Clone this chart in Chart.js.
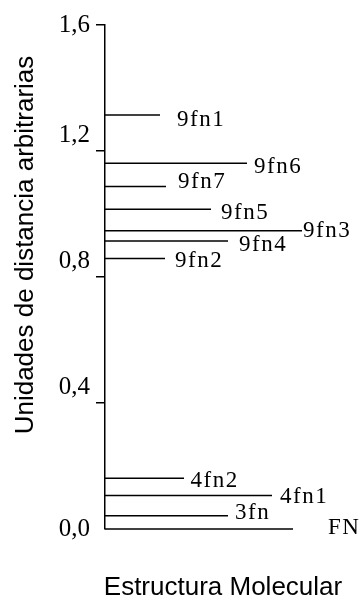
<!DOCTYPE html>
<html>
<head>
<meta charset="utf-8">
<script src="https://cdn.jsdelivr.net/npm/chart.js@4/dist/chart.umd.min.js"></script>
<style>
  html, body { margin: 0; padding: 0; background: #fff; }
  #wrap { width: 362px; height: 600px; position: relative; }
</style>
</head>
<body>
<div id="wrap"><canvas id="c"></canvas></div>
<script>
  /* datos: estructura, distancia (u.a.) y largo de cada raya */
  const structures = ['9fn1', '9fn6', '9fn7', '9fn5', '9fn3', '9fn4', '9fn2', '4fn2', '4fn1', '3fn', 'FN'];
  const distances  = [1.314, 1.161, 1.087, 1.015, 0.947, 0.914, 0.859, 0.161, 0.106, 0.042, 0];
  const lineLengths = [55, 142, 61, 106, 197, 123, 60, 79, 167, 123, 188];

  const tickValues = [0, 0.4, 0.8, 1.2, 1.6];
  const tickLabels = ['0,0', '0,4', '0,8', '1,2', '1,6'];

  const yTitle = 'Unidades de distancia arbitrarias';
  const xTitle = 'Estructura Molecular';

  // desplazamiento de cada etiqueta respecto al final de su raya (px)
  const labelNudge = [[17, 5], [7, 4], [12, -4.5], [10, 4], [1, 0], [11, 4], [10, 3], [6.5, 2.5], [8, 1], [7, -3], [35, -1]];

  const SERIF = '"Liberation Serif", "Times New Roman", serif';
  const SANS = '"Liberation Sans", Arial, sans-serif';

  /* ── etiquetas, ticks y títulos ── */
  const textPlugin = {
    id: 'texts',
    afterDraw: function (chart) {
      const ctx = chart.ctx;
      const xs = chart.scales.x, ys = chart.scales.y;
      ctx.save();
      ctx.fillStyle = '#000';

      // ticks del eje y
      ctx.font = '25px ' + SERIF;
      ctx.textAlign = 'right';
      ctx.textBaseline = 'middle';
      tickValues.forEach(function (v, i) {
        const off = (v === 0 || v === 1.6) ? 0 : -16;
        ctx.fillText(tickLabels[i], 90, ys.getPixelForValue(v) + off);
      });

      // nombre de cada estructura
      ctx.font = '23px ' + SERIF;
      ctx.textAlign = 'left';
      if ('letterSpacing' in ctx) ctx.letterSpacing = '1.5px';
      structures.forEach(function (s, i) {
        const n = labelNudge[i];
        ctx.fillText(s, xs.getPixelForValue(lineLengths[i]) + n[0], ys.getPixelForValue(distances[i]) + n[1]);
      });
      if ('letterSpacing' in ctx) ctx.letterSpacing = '0px';

      // títulos
      ctx.textAlign = 'center';
      ctx.textBaseline = 'alphabetic';
      ctx.font = '26px ' + SANS;
      ctx.fillText(xTitle, 223, 595);
      ctx.translate(33, 245);
      ctx.rotate(-Math.PI / 2);
      ctx.fillText(yTitle, 0, 0);
      ctx.restore();
    }
  };

  const datasets = structures.map(function (s, i) {
    return {
      label: s,
      data: [{ x: 0, y: distances[i] }, { x: lineLengths[i], y: distances[i] }],
      borderColor: '#000',
      borderWidth: 1.5,
      pointRadius: 0,
      fill: false,
      tension: 0,
      clip: false
    };
  });

  new Chart(document.getElementById('c').getContext('2d'), {
    type: 'line',
    data: { datasets: datasets },
    options: {
      responsive: true,
      maintainAspectRatio: false,
      animation: false,
      layout: { padding: { left: 96, top: 25, right: 7, bottom: 71 } },
      plugins: { legend: { display: false }, tooltip: { enabled: false } },
      scales: {
        x: { type: 'linear', display: false, min: 0, max: 250 },
        y: {
          type: 'linear', min: 0, max: 1.6,
          afterBuildTicks: function (axis) { axis.ticks = tickValues.map(function (v) { return { value: v }; }); },
          ticks: { display: false },
          grid: {
            drawOnChartArea: false, drawTicks: true, tickLength: 9, lineWidth: 1.5,
            color: function (c) { return (c.tick && c.tick.value === 0) ? 'rgba(0,0,0,0)' : '#000'; }
          },
          border: { display: true, color: '#000', width: 1.5 }
        }
      }
    },
    plugins: [textPlugin]
  });
</script>
</body>
</html>
